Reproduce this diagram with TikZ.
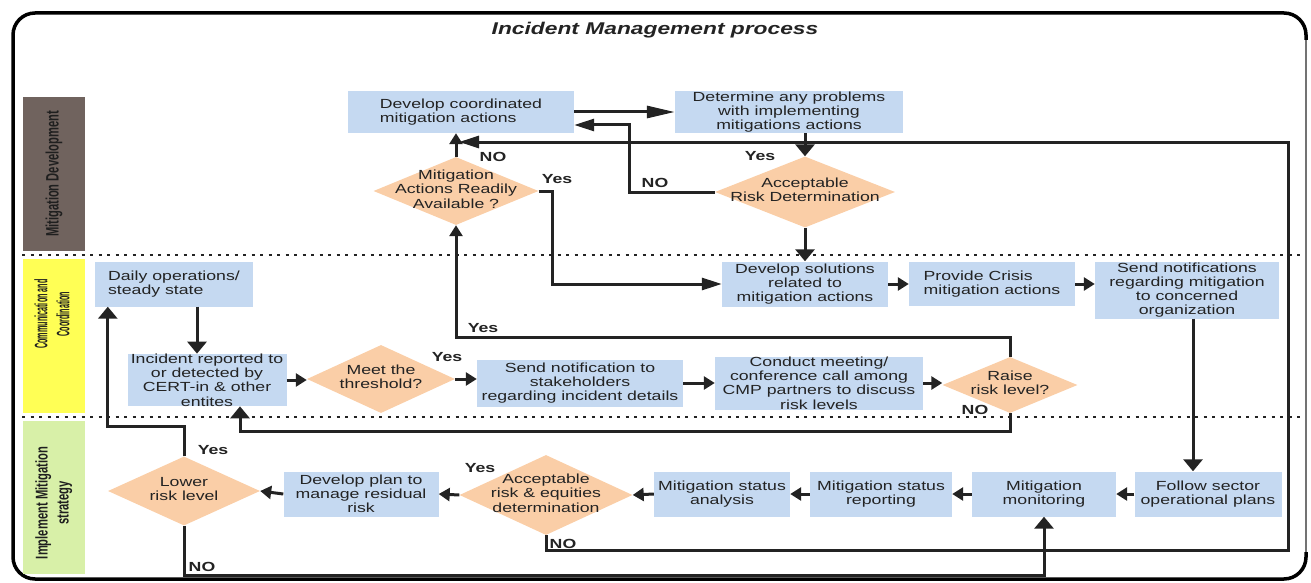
\documentclass[tikz,border=0pt]{standalone}
\usepackage{fontspec}
\setmainfont{Liberation Sans}
\newfontfamily\boxfont{Liberation Sans}[FakeStretch=1.34]
\usetikzlibrary{arrows.meta,shapes.geometric,calc}
\definecolor{boxblue}{RGB}{197,217,241}
\definecolor{diapeach}{RGB}{250,206,167}
\definecolor{lanebrown}{RGB}{112,99,94}
\definecolor{laneyellow}{RGB}{255,255,85}
\definecolor{lanegreen}{RGB}{216,240,168}
\definecolor{txt}{RGB}{35,35,35}
\definecolor{ln}{RGB}{35,35,35}
\newcommand{\dtx}[1]{\makebox[0pt]{\smash{\raisebox{-3pt}{\begin{tabular}{@{}c@{}}#1\end{tabular}}}}}
\tikzset{
  bx/.style={rectangle, fill=boxblue, inner sep=0pt, align=center, text=txt,
    font=\boxfont\fontsize{13.2}{14.2}\selectfont},
  dia/.style={diamond, fill=diapeach, inner sep=0pt, text=txt,
    font=\boxfont\fontsize{13.2}{14.2}\selectfont},
  lbl/.style={text=txt, inner sep=0pt, font=\boxfont\bfseries\fontsize{13.2}{14.2}\selectfont},
  lane/.style={rectangle, rotate=90, inner sep=0pt, align=center, text=black!88,
    font=\bfseries},
  con/.style={draw=ln, line width=3pt},
  aS/.style={con, -{Triangle[length=11pt,width=13pt]}},
  aM/.style={con, -{Triangle[length=12pt,width=19pt]}},
  aL/.style={con, -{Triangle[length=28pt,width=12pt]}},
  aR/.style={con, -{Triangle[length=20pt,width=12pt]}},
  dotline/.style={draw=ln, line width=2.6pt, dash pattern=on 3pt off 5.5pt},
}
\begin{document}
\begin{tikzpicture}[x=1pt,y=-1pt]
\useasboundingbox (0,0) rectangle (1311,583);
% frame
\draw[line width=3.5pt, rounded corners=22pt] (13,13) rectangle (1306,579);
\draw[white, line width=5pt] (1306,40) -- (1306,552);
\draw[black!55, line width=1.6pt] (1306,40) -- (1306,552);
% title
\node[font=\boxfont\bfseries\itshape\fontsize{17}{20}\selectfont, text=txt] (title) at (655,30) {Incident Management process};
% lanes
\node[lane, fill=lanebrown, minimum width=154pt, minimum height=62pt] (lmd) at (54,174)
  {\scalebox{0.62}[1]{\fontsize{18}{20}\selectfont Mitigation Development}};
\node[lane, fill=laneyellow, minimum width=154pt, minimum height=62pt] (lcc) at (54,336)
  {\hspace*{44pt}\scalebox{0.4}[1]{\fontsize{18}{22}\selectfont\begin{tabular}{@{}c@{}}Communication and\\Coordination\end{tabular}}};
\node[lane, fill=lanegreen, minimum width=153pt, minimum height=62pt] (lim) at (54,497)
  {\scalebox{0.66}[1]{\fontsize{17}{21}\selectfont\begin{tabular}{@{}c@{}}Implement Mitigation\\strategy\end{tabular}}\hspace*{12pt}};
% dotted separators
\draw[dotline] (22,255) -- (1302,255);
\draw[dotline] (22,417) -- (1302,417);
% boxes
\node[bx, align=left, minimum width=226pt, minimum height=42pt] (A) at (461,112) {Develop coordinated\\mitigation actions};
\node[bx, minimum width=228pt, minimum height=42pt] (B) at (789,112) {Determine any problems\\with implementing\\mitigations actions};
\node[bx, minimum width=166pt, minimum height=45pt] (C) at (805,284) {Develop solutions\\related to\\mitigation actions};
\node[bx, align=left, minimum width=166pt, minimum height=44pt] (E) at (992,284) {Provide Crisis\\mitigation actions};
\node[bx, minimum width=184pt, minimum height=57pt] (F) at (1187,290) {Send notifications\\regarding mitigation\\to concerned\\organization};
\node[bx, align=left, minimum width=158pt, minimum height=45pt] (G) at (174,284) {Daily operations/\\steady state};
\node[bx, minimum width=159pt, minimum height=51pt] (H) at (207,380) {Incident reported to\\or detected by\\CERT-in \& other\\entites};
\node[bx, minimum width=206pt, minimum height=47pt] (I) at (580,383) {Send notification to\\stakeholders\\regarding incident details};
\node[bx, minimum width=208pt, minimum height=53pt] (J) at (819,383) {Conduct meeting/\\conference call among\\CMP partners to discuss\\risk levels};
\node[bx, minimum width=147pt, minimum height=45pt] (K) at (1208,494) {Follow sector\\operational plans};
\node[bx, minimum width=144pt, minimum height=45pt] (M) at (1044,494) {Mitigation\\monitoring};
\node[bx, minimum width=142pt, minimum height=45pt] (R) at (881,494) {Mitigation status\\reporting};
\node[bx, minimum width=136pt, minimum height=45pt] (S) at (722,494) {Mitigation status\\analysis};
\node[bx, minimum width=155pt, minimum height=45pt] (P) at (361,494) {Develop plan to\\manage residual\\risk};
% diamonds
\node[dia, minimum width=165pt, minimum height=68pt] (D1) at (456,191) {\dtx{Mitigation\\Actions Readily\\Available ?}};
\node[dia, minimum width=180pt, minimum height=71pt] (D2) at (805,192) {\dtx{Acceptable\\Risk Determination}};
\node[dia, minimum width=148pt, minimum height=68pt] (D3) at (381,379) {\dtx{Meet the\\threshold?}};
\node[dia, minimum width=135pt, minimum height=56pt] (D4) at (1010,385) {\dtx{Raise\\risk level?}};
\node[dia, minimum width=173pt, minimum height=80pt] (D5) at (546,495) {\dtx{Acceptable\\risk \& equities\\determination}};
\node[dia, minimum width=152pt, minimum height=69pt] (L) at (184,491) {\dtx{Lower\\risk level}};
% helper coordinates
\coordinate (jn) at (459,142);
\coordinate (rtop) at (1288,142);
\coordinate (rbot) at (1288,550);
\coordinate (bt) at (0,575);
% connectors - top lane
\draw[aL] (A.east) -- (B.west);
\draw[aR] (D2.west) -- ++(-85,0) |- ([yshift=-13pt]A.east);
\draw[aS] (D1.north) -- (D1.north |- A.south);
\draw[aR] (D5.south) |- (rbot) -- (rtop) -- (jn);
\draw[aM] (D2.north |- B.south) -- (D2.north);
\draw[aM] (D2.south) -- (D2.south |- C.north);
\draw[aR] (D1.east) -- ++(14,0) |- (C.west);
% middle lane
\draw[aS] (C.east) -- (E.west);
\draw[aS] (E.east) -- (E.east -| F.west);
\draw[aM] ([xshift=6pt]F.south) -- ([xshift=6pt]F.south |- K.north);
\draw[aM] ([xshift=23pt]G.south) -- ([xshift=23pt]G.south |- H.north);
\draw[aS] (H.east) -- (H.east -| D3.west);
\draw[aS] (D3.east) -- (D3.east -| I.west);
\draw[aS] (I.east) -- (I.east -| J.west);
\draw[aS] (J.east) -- (J.east -| D4.west);
\draw[aM] (D4.south) -- ++(0,18) -| ([xshift=33pt]H.south);
\draw[aS] (D4.north) -- ++(0,-19) -| (D1.south);
% bottom lane
\draw[aS] (K.west) -- (M.east);
\draw[aS] (M.west) -- (R.east);
\draw[aS] (R.west) -- (S.east);
\draw[aS] (S.west) -- (D5.east);
\draw[aS] (D5.west) -- (P.east);
\draw[aS] (P.west) -- (L.east);
\draw[aM] (L.north) -- ++(0,-30) -| ([xshift=13pt]G.south west);
\draw[aM] (L.south) |- (M.south |- bt) -- (M.south);
% labels
\node[lbl] (n1) at (493,157) {NO};
\node[lbl] (y1) at (557,179) {Yes};
\node[lbl] (n2) at (655,183) {NO};
\node[lbl] (y2) at (760,156) {Yes};
\node[lbl] (y3) at (483,328) {Yes};
\node[lbl] (y4) at (447,357) {Yes};
\node[lbl] (n3) at (975,410) {NO};
\node[lbl] (y5) at (213,450) {Yes};
\node[lbl] (n4) at (202,567) {NO};
\node[lbl] (y6) at (480,468) {Yes};
\node[lbl] (n5) at (563,544) {NO};
\end{tikzpicture}
\end{document}
